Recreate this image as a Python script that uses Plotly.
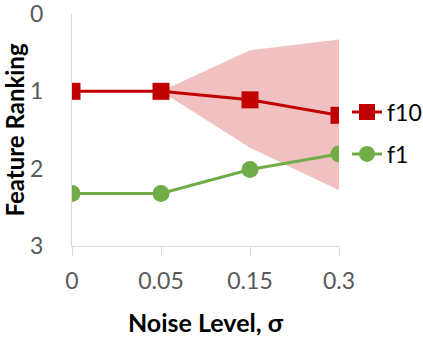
import plotly.graph_objects as go

noise_levels = ["0", "0.05", "0.15", "0.3"]
f10_rank = [1.0, 1.0, 1.11, 1.31]
f1_rank = [2.32, 2.32, 2.01, 1.81]
f10_band_upper = [1.0, 1.0, 0.47, 0.33]
f10_band_lower = [1.0, 1.0, 1.73, 2.28]

FONT = "Lato"
RED = "#C00000"
GREEN = "#70AD47"

fig = go.Figure()

# spread band for f10 (drawn behind the lines)
fig.add_trace(go.Scatter(
    x=noise_levels, y=f10_band_upper, mode="lines",
    line=dict(width=0), showlegend=False, hoverinfo="skip",
))
fig.add_trace(go.Scatter(
    x=noise_levels, y=f10_band_lower, mode="lines",
    line=dict(width=0), fill="tonexty",
    fillcolor="rgba(220,100,100,0.4)", showlegend=False, hoverinfo="skip",
))

fig.add_trace(go.Scatter(
    x=noise_levels, y=f10_rank, name="f10", mode="lines+markers",
    line=dict(color=RED, width=3),
    marker=dict(symbol="square", size=17, color=RED),
    legendgroup="a",
))
fig.add_trace(go.Scatter(
    x=noise_levels, y=f1_rank, name="f1", mode="lines+markers",
    line=dict(color=GREEN, width=3),
    marker=dict(symbol="circle", size=17, color=GREEN),
    legendgroup="b",
))

fig.update_layout(
    width=423, height=339,
    margin=dict(l=72, r=84, t=14, b=93, autoexpand=False),
    plot_bgcolor="white", paper_bgcolor="white",
    font=dict(family=FONT, size=23, color="#595959"),
    legend=dict(
        x=1.03, xanchor="left", y=0.67, yanchor="top",
        font=dict(family=FONT, size=23, color="black"),
        tracegroupgap=9, traceorder="grouped",
        itemwidth=30, bgcolor="rgba(0,0,0,0)",
    ),
    showlegend=True,
)
fig.update_xaxes(
    type="category", range=[0, 3], automargin=False,
    showline=True, linecolor="#D9D9D9", linewidth=1,
    ticks="outside", ticklen=9, tickcolor="#D9D9D9",
    ticklabelstandoff=5,
    showgrid=False, zeroline=False,
    title=dict(text="<b>Noise Level, σ</b>",
               font=dict(family=FONT, size=25, color="black"), standoff=21),
)
fig.update_yaxes(
    range=[3, 0], tickvals=[0, 1, 2, 3], automargin=False,
    ticklabeloverflow="allow",
    showline=True, linecolor="#D9D9D9", linewidth=1,
    showgrid=False, zeroline=False,
    ticks="outside", ticklen=23, tickcolor="rgba(0,0,0,0)",
    title=dict(text="<b>Feature Ranking</b>",
               font=dict(family=FONT, size=24, color="black"), standoff=0),
)

fig.write_html("out.html", config={"displayModeBar": False},
               post_script="document.body.style.margin = '0';")
